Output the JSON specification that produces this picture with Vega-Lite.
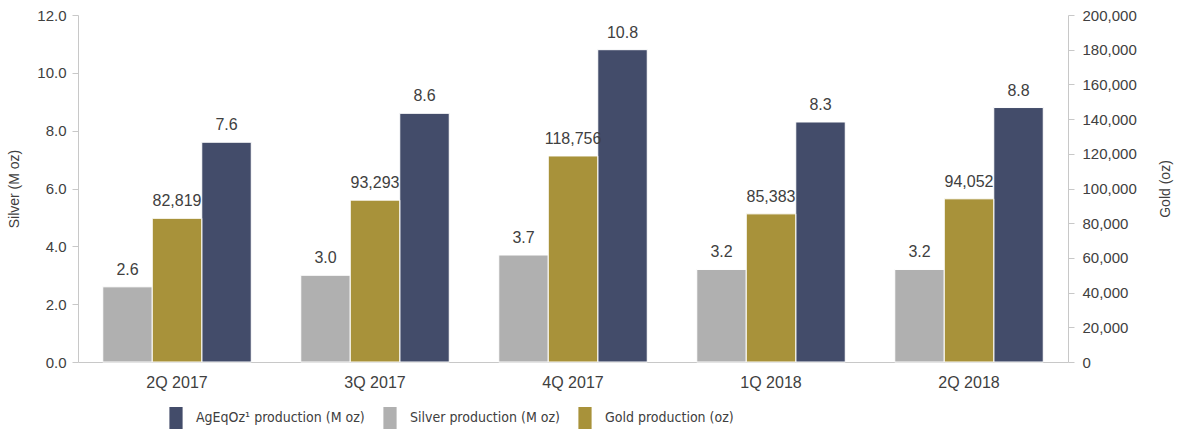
{
  "$schema": "https://vega.github.io/schema/vega-lite/v6.json",
  "autosize": {"type": "none"},
  "padding": {"left": 78, "top": 15, "right": 112, "bottom": 80},
  "width": 990,
  "height": 347,
  "background": "white",
  "config": {
    "view": {"stroke": null},
    "font": "Liberation Sans",
    "axis": {"labelFont": "Liberation Sans", "titleFont": "Liberation Sans", "labelColor": "#404040", "titleColor": "#404040", "labelFontSize": 15, "titleFontSize": 14, "titleFontWeight": "normal", "domainColor": "#c8c8c8", "tickColor": "#c8c8c8", "grid": false}
  },
  "data": {
    "values": [
      {"quarter": "2Q 2017", "series": "Silver", "legend": "Silver production (M oz)", "value": 2.6},
      {"quarter": "2Q 2017", "series": "Gold", "legend": "Gold production (oz)", "value": 82819},
      {"quarter": "2Q 2017", "series": "AgEq", "legend": "AgEqOz¹ production (M oz)", "value": 7.6},
      {"quarter": "3Q 2017", "series": "Silver", "legend": "Silver production (M oz)", "value": 3.0},
      {"quarter": "3Q 2017", "series": "Gold", "legend": "Gold production (oz)", "value": 93293},
      {"quarter": "3Q 2017", "series": "AgEq", "legend": "AgEqOz¹ production (M oz)", "value": 8.6},
      {"quarter": "4Q 2017", "series": "Silver", "legend": "Silver production (M oz)", "value": 3.7},
      {"quarter": "4Q 2017", "series": "Gold", "legend": "Gold production (oz)", "value": 118756},
      {"quarter": "4Q 2017", "series": "AgEq", "legend": "AgEqOz¹ production (M oz)", "value": 10.8},
      {"quarter": "1Q 2018", "series": "Silver", "legend": "Silver production (M oz)", "value": 3.2},
      {"quarter": "1Q 2018", "series": "Gold", "legend": "Gold production (oz)", "value": 85383},
      {"quarter": "1Q 2018", "series": "AgEq", "legend": "AgEqOz¹ production (M oz)", "value": 8.3},
      {"quarter": "2Q 2018", "series": "Silver", "legend": "Silver production (M oz)", "value": 3.2},
      {"quarter": "2Q 2018", "series": "Gold", "legend": "Gold production (oz)", "value": 94052},
      {"quarter": "2Q 2018", "series": "AgEq", "legend": "AgEqOz¹ production (M oz)", "value": 8.8}
    ]
  },
  "encoding": {
    "x": {
      "field": "quarter", "type": "nominal", "sort": null,
      "scale": {"paddingInner": 0.25, "paddingOuter": 0.125},
      "axis": {"title": null, "labelAngle": 0, "ticks": false, "labelPadding": 12, "labelFontSize": 16}
    },
    "xOffset": {
      "field": "series", "type": "nominal",
      "scale": {"domain": ["Silver", "Gold", "AgEq"], "paddingInner": 0, "paddingOuter": 0}
    },
    "color": {
      "field": "legend", "type": "nominal",
      "scale": {
        "domain": ["AgEqOz¹ production (M oz)", "Silver production (M oz)", "Gold production (oz)"],
        "range": ["#434c6a", "#b0b0b0", "#a8923a"]
      },
      "legend": {
        "title": null,
        "orient": "none",
        "legendX": 87,
        "legendY": 392,
        "direction": "horizontal",
        "columns": 3,
        "gridAlign": "none",
        "columnPadding": 14,
        "symbolType": "M-0.6,-1H0.6V1H-0.6Z",
        "symbolSize": 484,
        "symbolStrokeWidth": 0,
        "labelFont": "DejaVu Sans Condensed, Liberation Sans, sans-serif",
        "labelFontSize": 14,
        "labelColor": "#404040",
        "labelOffset": 9,
        "labelLimit": 250
      }
    }
  },
  "layer": [
    {
      "transform": [{"filter": "datum.series !== 'Gold'"}],
      "encoding": {
        "y": {
          "field": "value", "type": "quantitative",
          "scale": {"domain": [0, 12]},
          "axis": {"title": "Silver (M oz)", "values": [0, 2, 4, 6, 8, 10, 12], "format": ".1f", "tickSize": 6, "labelPadding": 6, "titlePadding": 15}
        }
      },
      "layer": [
        {"mark": {"type": "bar", "stroke": "white", "strokeWidth": 1}},
        {"mark": {"type": "text", "baseline": "bottom", "dy": -9, "fontSize": 16, "color": "#404040"},
         "encoding": {"text": {"field": "value", "type": "quantitative", "format": ".1f"}, "color": {"value": "#404040"}}}
      ]
    },
    {
      "transform": [{"filter": "datum.series === 'Gold'"}],
      "encoding": {
        "y": {
          "field": "value", "type": "quantitative",
          "scale": {"domain": [0, 200000]},
          "axis": {"title": "Gold (oz)", "orient": "right", "values": [0, 20000, 40000, 60000, 80000, 100000, 120000, 140000, 160000, 180000, 200000], "format": ",.0f", "tickSize": 6, "labelPadding": 8, "titlePadding": 22, "titleAngle": 270, "titleBaseline": "top"}
        }
      },
      "layer": [
        {"mark": {"type": "bar", "stroke": "white", "strokeWidth": 1}},
        {"mark": {"type": "text", "baseline": "bottom", "dy": -9, "fontSize": 16, "color": "#404040"},
         "encoding": {"text": {"field": "value", "type": "quantitative", "format": ",.0f"}, "color": {"value": "#404040"}}}
      ]
    }
  ],
  "resolve": {"scale": {"y": "independent"}}
}
